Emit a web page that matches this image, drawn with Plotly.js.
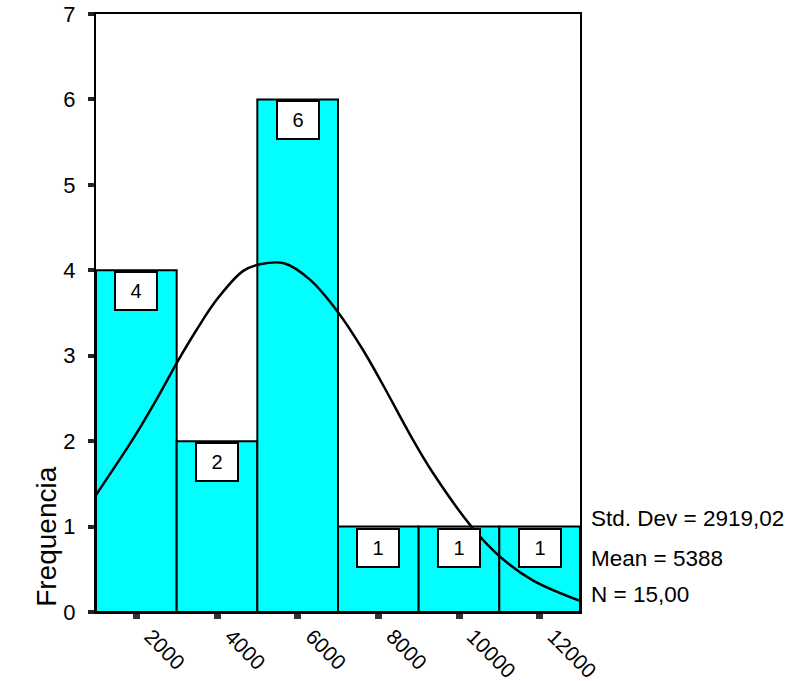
<!DOCTYPE html>
<html>
<head>
<meta charset="utf-8">
<script src="https://cdn.plot.ly/plotly-3.0.1.min.js"></script>
<style>html,body{margin:0;padding:0;background:#fff;}#chart{width:789px;height:681px;}</style>
</head>
<body>
<div id="chart"></div>
<script>
// Histogram bins (centers) and counts
const binCenters = [2000, 4000, 6000, 8000, 10000, 12000];
const counts = [4, 2, 6, 1, 1, 1];
const binWidth = 2000;

// Normal curve
const curveX = [1000, 1719, 2041, 2586, 3007, 3503, 4000, 4643, 5064, 5684, 6304, 7000, 7617, 8113, 8782, 9352, 10343, 11012, 11830, 13000];
const curveY = [1.37, 1.88, 2.12, 2.56, 2.92, 3.31, 3.66, 3.99, 4.07, 4.08, 3.89, 3.51, 3.07, 2.66, 2.08, 1.63, 0.98, 0.65, 0.37, 0.13];

const xTickVals = [2000, 4000, 6000, 8000, 10000, 12000];
const xTickText = ['2000', '4000', '6000', '8000', '10000', '12000'];
const statsLines = ['Std. Dev = 2919,02', 'Mean = 5388', 'N = 15,00'];
const statsY = [1.10, 0.63, 0.20];
const yLabel = 'Frequencia';

const FONT = 'Liberation Sans, Arial, sans-serif';

const traces = [
  {
    type: 'bar',
    x: binCenters,
    y: counts,
    width: binWidth,
    marker: {color: '#00FFFF', line: {color: '#000', width: 2}},
    hoverinfo: 'skip'
  },
  {
    type: 'scatter',
    mode: 'lines',
    x: curveX,
    y: curveY,
    line: {color: '#000', width: 2.5, shape: 'spline', smoothing: 1},
    hoverinfo: 'skip'
  }
];

const annotations = [];
binCenters.forEach((c, i) => {
  annotations.push({
    x: c, y: counts[i], xref: 'x', yref: 'y',
    text: String(counts[i]),
    showarrow: false,
    xanchor: 'center', yanchor: 'top',
    yshift: -1,
    width: 40, height: 36,
    bgcolor: '#fff', bordercolor: '#000', borderwidth: 2, borderpad: 0,
    font: {family: FONT, size: 20, color: '#000'}
  });
});
statsLines.forEach((t, i) => {
  annotations.push({
    x: 1, y: statsY[i], xref: 'paper', yref: 'y',
    xshift: 9,
    text: t, showarrow: false,
    xanchor: 'left', yanchor: 'middle',
    font: {family: FONT, size: 22.5, color: '#000'}
  });
});
annotations.push({
  x: 0, y: 0.88, xref: 'paper', yref: 'y',
  xshift: -49,
  text: yLabel, showarrow: false, textangle: -90,
  xanchor: 'center', yanchor: 'middle',
  font: {family: FONT, size: 28, color: '#000'}
});

const layout = {
  width: 789, height: 681,
  margin: {l: 96, r: 209, t: 14, b: 69, pad: 0},
  paper_bgcolor: '#fff', plot_bgcolor: '#fff',
  showlegend: false,
  bargap: 0,
  font: {family: FONT, size: 21, color: '#000'},
  xaxis: {
    range: [1000, 13000],
    tickvals: xTickVals, ticktext: xTickText,
    tickangle: 45,
    ticks: 'outside', ticklen: 5, tickwidth: 7, tickcolor: '#333',
    ticklabelshift: 14, ticklabelstandoff: -3,
    showline: true, mirror: true, linecolor: '#000', linewidth: 2,
    showgrid: false, zeroline: false,
    tickfont: {family: FONT, size: 21, color: '#000'}
  },
  yaxis: {
    range: [0, 7], dtick: 1, tick0: 0,
    ticks: 'outside', ticklen: 6, tickwidth: 4, tickcolor: '#222',
    ticklabelstandoff: 8,
    showline: true, mirror: true, linecolor: '#000', linewidth: 2,
    showgrid: false, zeroline: false,
    tickfont: {family: FONT, size: 22, color: '#000'}
  },
  annotations: annotations
};

Plotly.newPlot('chart', traces, layout, {displayModeBar: false, staticPlot: true});
</script>
</body>
</html>
